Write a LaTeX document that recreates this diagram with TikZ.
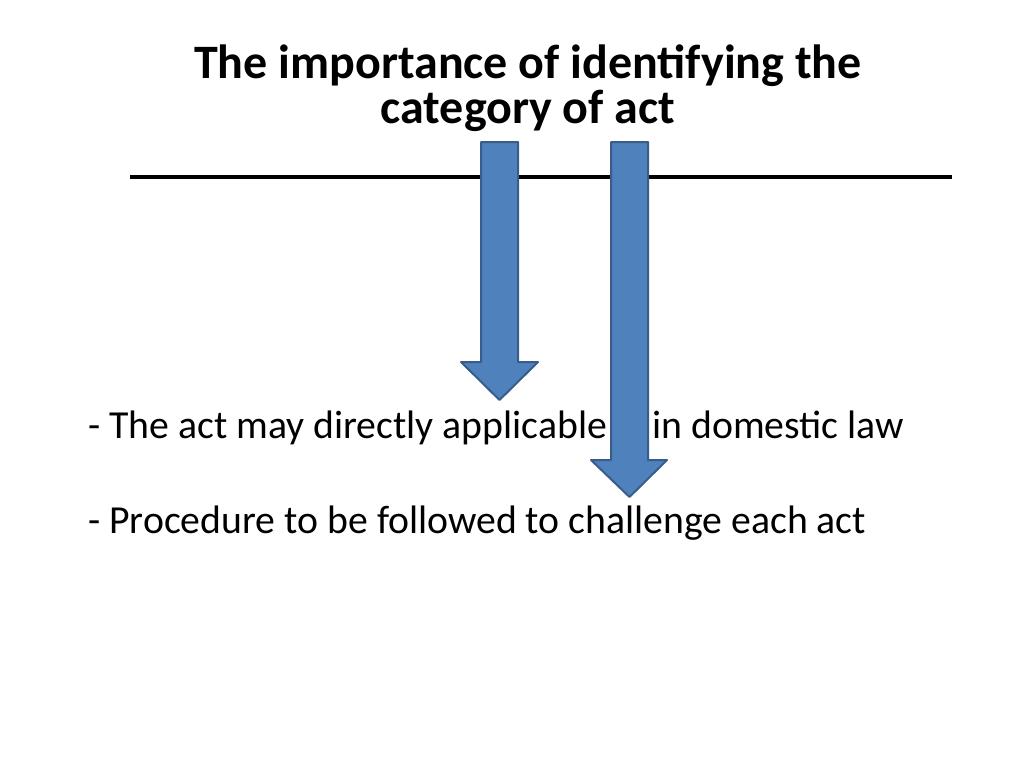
\documentclass[tikz,border=0pt]{standalone}
\usepackage{fontspec}
\setmainfont{Carlito}
\tikzset{
	downarrow/.style={fill={rgb,255:red,79;green,129;blue,189}, draw={rgb,255:red,56;green,93;blue,138}, line width=1.5pt, line join=round},
	slidetext/.style={font=\fontsize{29.8}{36}\selectfont, anchor=base west, inner sep=0pt},
	titletext/.style={font=\fontsize{36}{42}\selectfont\bfseries, align=center, inner sep=0pt}
}
\begin{document}
\begin{tikzpicture}[x=0.75pt, y=-0.75pt]
	% --- Canvas ---
	\useasboundingbox (0,0) rectangle (1024,768);
	
	% --- Title ---
	\node[titletext, anchor=base] (title1) at (528,78) {The importance of identifying the};
	\node[titletext, anchor=base] (title2) at (528,123) {category of act};
	\draw[line width=3pt] (130,177) -- (952,177);
	
	% --- Body text ---
	\node[slidetext] (line1) at (88,438) {- The act may directly applicable};
	\node[slidetext] (line1b) at (652,438) {in domestic law};
	\node[slidetext] (line2) at (88,533) {- Procedure to be followed to challenge each act};
	
	% --- Arrows ---
	\draw[downarrow] (481,142) -- (518,142) -- (518,362) -- (538,362) -- (499.5,400) -- (461,362) -- (481,362) -- cycle;
	\draw[downarrow] (611,142) -- (648,142) -- (648,460) -- (667,460) -- (629.5,497) -- (591,460) -- (611,460) -- cycle;
\end{tikzpicture}
\end{document}
